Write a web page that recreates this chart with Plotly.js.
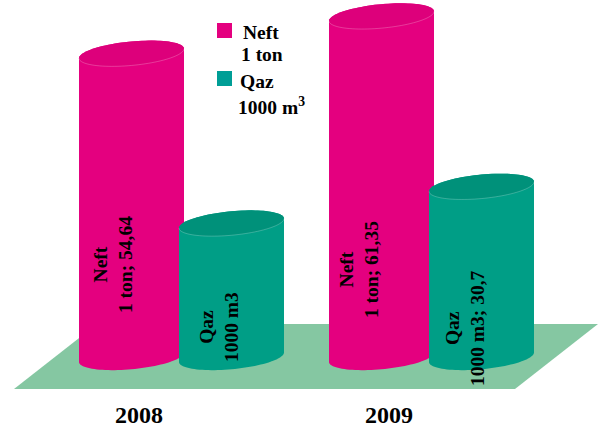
<!DOCTYPE html>
<html>
<head>
<meta charset="utf-8">
<script src="https://cdn.plot.ly/plotly-3.0.1.min.js"></script>
<style>html,body{margin:0;padding:0;background:#fff}#c{width:598px;height:434px}</style>
</head>
<body>
<div id="c"></div>
<script>
// Chart data
const years = ['2008', '2009'];
const yearPos = [0, 1];
const neftName = 'Neft 1 ton';
const qazName = 'Qaz 1000 m3';
const neftValues = [54.64, 61.35];
const qazValues = [24.1, 30.7];
const neftLabels = ['Neft<br>1 ton; 54,64', 'Neft<br>1 ton; 61,35'];
const qazLabels = ['Qaz<br>1000 m3', 'Qaz<br>1000 m3; 30,7'];

// Styling
const serif = '"Liberation Serif", "Times New Roman", serif';
const PINK = '#E4007F', PINK_TOP = '#DD007B';
const TEAL = '#009E86', TEAL_TOP = '#00917A';
const FLOOR = '#85C7A2';
const W = 598, H = 434, PLOT_H = 393;
const PX_PER_UNIT_X = 250, PX_PER_UNIT_Y = 5.56;
const X0_PX = 139, Y0_PX = 362;

// Cylinder geometry, in axis units
const halfW = 52.5 / PX_PER_UNIT_X;
const tilt = 4.75 / PX_PER_UNIT_Y;
const minor = 12 / PX_PER_UNIT_Y;
const neftOffset = -7.5 / PX_PER_UNIT_X;
const qazOffset = 92.5 / PX_PER_UNIT_X;
const coreHalf = 38.75 / PX_PER_UNIT_X;

function arc(cx, cy, from, to) {
  const pts = [];
  const n = 48;
  for (let i = 0; i <= n; i++) {
    const t = from + (to - from) * i / n;
    pts.push([cx + Math.cos(t) * halfW, cy + Math.cos(t) * tilt + Math.sin(t) * minor]);
  }
  return pts;
}
function toPath(pts) {
  return 'M' + pts.map(p => p[0].toFixed(4) + ',' + p[1].toFixed(4)).join(' L') + ' Z';
}
function cylinderShapes(cx, value, body, top) {
  const baseC = tilt, topC = value + tilt;
  const outline = arc(cx, baseC, Math.PI, 2 * Math.PI).concat(arc(cx, topC, 0, Math.PI));
  const lid = arc(cx, topC, 0, 2 * Math.PI);
  const front = arc(cx, topC, Math.PI, 2 * Math.PI);
  return [
    {type: 'path', xref: 'x', yref: 'y', path: toPath(outline), fillcolor: body, line: {width: 0}},
    {type: 'path', xref: 'x', yref: 'y', path: toPath(lid), fillcolor: top, line: {width: 0}},
    {type: 'path', xref: 'x', yref: 'y',
     path: 'M' + front.map(p => p[0].toFixed(4) + ',' + p[1].toFixed(4)).join(' L'),
     line: {width: 0.5, color: 'rgba(255,255,255,0.45)'}}
  ];
}

const xr = v => (v - X0_PX) / PX_PER_UNIT_X;
const yr = v => (Y0_PX - v) / PX_PER_UNIT_Y;

const floor = {
  type: 'path', xref: 'x', yref: 'y', layer: 'below',
  path: 'M' + xr(14) + ',' + yr(389) + ' L' + xr(515) + ',' + yr(389) +
        ' L' + xr(598) + ',' + yr(324) + ' L' + xr(97) + ',' + yr(324) + ' Z',
  fillcolor: FLOOR, line: {width: 0}
};

let shapes = [floor];
yearPos.forEach((x, i) => {
  shapes = shapes.concat(cylinderShapes(x + neftOffset, neftValues[i], PINK, PINK_TOP));
  shapes = shapes.concat(cylinderShapes(x + qazOffset, qazValues[i], TEAL, TEAL_TOP));
});
const square = (x0, y0, c) => ({
  type: 'rect', xref: 'paper', yref: 'paper',
  x0: x0 / W, x1: (x0 + 15) / W, y0: 1 - (y0 + 15) / PLOT_H, y1: 1 - y0 / PLOT_H,
  fillcolor: c, line: {width: 0}
});
shapes.push(square(217, 23, PINK));
shapes.push(square(217, 71, '#009E96'));

const labelFont = {family: serif, size: 19.5, color: '#000'};
const dataLabel = (text, px, py) => ({
  text, xref: 'x', yref: 'y', x: xr(px), y: yr(py), showarrow: false,
  textangle: -90, font: labelFont, align: 'center', xanchor: 'center', yanchor: 'middle'
});
const legendText = (text, px, py) => ({
  text, xref: 'paper', yref: 'paper', x: px / W, y: 1 - py / PLOT_H, showarrow: false,
  font: labelFont, xanchor: 'left', yanchor: 'middle'
});
const bold = s => s.split('<br>').map(l => '<b>' + l + '</b>').join('<br>');

const annotations = [
  dataLabel(bold(neftLabels[0]), 113, 265),
  dataLabel(bold(qazLabels[0]), 219, 327),
  dataLabel(bold(neftLabels[1]), 359, 270),
  dataLabel(bold(qazLabels[1]), 465, 328),
  legendText('<b>Neft</b>', 241, 32),
  legendText('<b>1 ton</b>', 239, 55),
  legendText('<b>Qaz</b>', 238, 81),
  legendText('<b>1000 m<sup>3</sup></b>', 236, 106)
];

const barTrace = (name, values, off, color) => ({
  type: 'bar', name, x: yearPos, y: values,
  width: coreHalf * 2, offset: off - coreHalf,
  marker: {color, line: {width: 0}}, hoverinfo: 'x+y+name'
});

const data = [
  barTrace(neftName, neftValues, neftOffset, PINK),
  barTrace(qazName, qazValues, qazOffset, TEAL)
];

const layout = {
  width: W, height: H,
  margin: {l: 0, r: 0, t: 0, b: H - PLOT_H, pad: 0},
  paper_bgcolor: '#fff', plot_bgcolor: 'rgba(0,0,0,0)',
  showlegend: false,
  barmode: 'overlay',
  xaxis: {
    type: 'linear', range: [xr(0), xr(W)],
    tickmode: 'array', tickvals: yearPos, ticktext: years.map(y => '<b>' + y + '</b>'),
    tickfont: {family: serif, size: 24, color: '#000'},
    ticks: '', ticklabelstandoff: 5,
    showgrid: false, zeroline: false, showline: false, fixedrange: true
  },
  yaxis: {
    range: [yr(PLOT_H), yr(0)], visible: false,
    showgrid: false, zeroline: false, fixedrange: true
  },
  shapes, annotations
};

Plotly.newPlot('c', data, layout, {displayModeBar: false, staticPlot: true});
</script>
</body>
</html>
